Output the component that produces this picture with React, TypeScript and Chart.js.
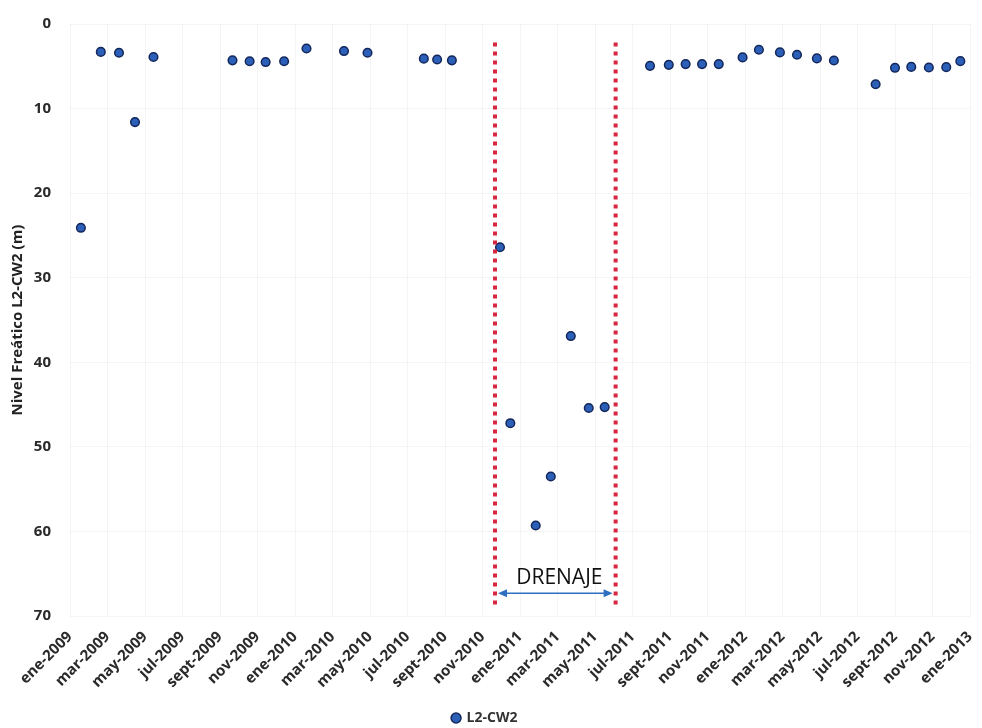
import React, { useEffect, useRef } from "react";
import { Chart, registerables } from "chart.js";

Chart.register(...registerables);

// ---- Data ----
const seriesName = "L2-CW2";
const yAxisTitle = "Nivel Freático L2-CW2 (m)";

const sampleDates = [
  "2009-01-19", "2009-02-19", "2009-03-20", "2009-04-15", "2009-05-15",
  "2009-09-21", "2009-10-19", "2009-11-14", "2009-12-14",
  "2010-01-20", "2010-03-20", "2010-04-27", "2010-07-28", "2010-08-19", "2010-09-12",
  "2010-11-29", "2010-12-16", "2011-01-27", "2011-02-19", "2011-03-23", "2011-04-21", "2011-05-17",
  "2011-07-30", "2011-08-30", "2011-09-26", "2011-10-23", "2011-11-19", "2011-12-28",
  "2012-01-24", "2012-02-26", "2012-03-25", "2012-04-26", "2012-05-24",
  "2012-07-31", "2012-09-01", "2012-09-27", "2012-10-26", "2012-11-23", "2012-12-16",
];

const waterLevels = [
  24.1, 3.3, 3.4, 11.6, 3.9,
  4.3, 4.4, 4.5, 4.4,
  2.9, 3.2, 3.4, 4.1, 4.2, 4.3,
  26.4, 47.2, 59.3, 53.5, 36.9, 45.4, 45.3,
  4.95, 4.83, 4.74, 4.74, 4.74, 3.95,
  3.05, 3.36, 3.64, 4.07, 4.31,
  7.12, 5.18, 5.07, 5.14, 5.1, 4.39,
];

const tickLabels = [
  "ene-2009", "mar-2009", "may-2009", "jul-2009", "sept-2009", "nov-2009",
  "ene-2010", "mar-2010", "may-2010", "jul-2010", "sept-2010", "nov-2010",
  "ene-2011", "mar-2011", "may-2011", "jul-2011", "sept-2011", "nov-2011",
  "ene-2012", "mar-2012", "may-2012", "jul-2012", "sept-2012", "nov-2012",
  "ene-2013",
];

const drainageDates = ["2010-11-21", "2011-06-04"];
const drainageLabel = "DRENAJE";
const drainageLineRange = [2.2, 69.0];
const drainageArrowLevel = 67.3;

// ---- helpers ----
function toMonthIndex(s: string): number {
  const [y, m, d] = s.split("-").map(Number);
  const days = new Date(y, m, 0).getDate();
  return (y - 2009) * 12 + (m - 1) + (d - 1) / days;
}

const FONT = "'Open Sans', 'DejaVu Sans', sans-serif";

function zeroPadding(scale: any) {
  scale.paddingLeft = 0;
  scale.paddingRight = 0;
  scale.paddingTop = 0;
  scale.paddingBottom = 0;
}

const drainagePlugin = {
  id: "drainage",
  afterDatasetsDraw(chart: any) {
    const { ctx, scales } = chart;
    const xs = scales.x;
    const ys = scales.y;
    const xA = xs.getPixelForValue(toMonthIndex(drainageDates[0]));
    const xB = xs.getPixelForValue(toMonthIndex(drainageDates[1]));
    const yTop = ys.getPixelForValue(drainageLineRange[0]);
    const yBot = ys.getPixelForValue(drainageLineRange[1]);
    ctx.save();
    ctx.strokeStyle = "#d7263f";
    ctx.lineWidth = 4;
    ctx.lineCap = "butt";
    ctx.setLineDash([4, 5]);
    [xA, xB].forEach((x) => {
      ctx.beginPath();
      ctx.moveTo(x, yTop);
      ctx.lineTo(x, yBot);
      ctx.stroke();
    });
    ctx.setLineDash([]);
    // arrow
    const ya = ys.getPixelForValue(drainageArrowLevel);
    const l = xA + 3;
    const r = xB - 3;
    ctx.strokeStyle = "#2f6fc0";
    ctx.fillStyle = "#2f6fc0";
    ctx.lineWidth = 1.5;
    ctx.beginPath();
    ctx.moveTo(l + 6, ya);
    ctx.lineTo(r - 6, ya);
    ctx.stroke();
    ctx.beginPath();
    ctx.moveTo(l, ya);
    ctx.lineTo(l + 9, ya - 4);
    ctx.lineTo(l + 9, ya + 4);
    ctx.closePath();
    ctx.fill();
    ctx.beginPath();
    ctx.moveTo(r, ya);
    ctx.lineTo(r - 9, ya - 4);
    ctx.lineTo(r - 9, ya + 4);
    ctx.closePath();
    ctx.fill();
    // label
    ctx.fillStyle = "#111";
    ctx.font = `21px ${FONT}`;
    ctx.textAlign = "center";
    ctx.textBaseline = "alphabetic";
    ctx.fillText(drainageLabel, (xA + xB) / 2 + 4, ya - 9);
    ctx.restore();
  },
};

export default function App() {
  const canvasRef = useRef<HTMLCanvasElement | null>(null);

  useEffect(() => {
    const points = sampleDates.map((d, i) => ({ x: toMonthIndex(d), y: waterLevels[i] }));
    const chart = new Chart(canvasRef.current as HTMLCanvasElement, {
      type: "scatter",
      data: {
        datasets: [
          {
            label: seriesName,
            data: points,
            backgroundColor: "#2c5fb8",
            borderColor: "#13275a",
            borderWidth: 1.5,
            pointRadius: 4.3,
            pointHoverRadius: 4.3,
          },
        ],
      },
      options: {
        animation: false,
        responsive: true,
        maintainAspectRatio: false,
        layout: { padding: { top: 24, right: 12, left: 0, bottom: -7 } },
        plugins: {
          tooltip: { enabled: false },
          legend: {
            position: "bottom",
            labels: {
              usePointStyle: true,
              pointStyle: "circle",
              boxWidth: 7,
              boxHeight: 7,
              padding: 3,
              color: "#333",
              font: { family: FONT, size: 14, weight: "bold" },
            },
          },
        },
        scales: {
          x: {
            type: "linear",
            min: 0,
            max: 48,
            afterFit: (scale: any) => {
              scale.height = 92;
              zeroPadding(scale);
            },
            border: { display: false },
            grid: { color: "rgba(0,0,0,0.04)", drawTicks: false },
            ticks: {
              stepSize: 2,
              autoSkip: false,
              minRotation: 45,
              maxRotation: 45,
              padding: 12,
              color: "#2a2a2a",
              font: { family: FONT, size: 15, weight: "bold" },
              callback: (v: any) => tickLabels[Math.round(Number(v) / 2)] ?? "",
            },
          },
          y: {
            reverse: true,
            min: 0,
            max: 70,
            afterFit: (scale: any) => {
              scale.width = 70;
              zeroPadding(scale);
            },
            border: { display: false },
            grid: { color: "rgba(0,0,0,0.04)", drawTicks: false },
            title: {
              display: true,
              text: yAxisTitle,
              color: "#222",
              font: { family: FONT, size: 15, weight: "bold" },
              padding: { top: 9, bottom: 0 },
            },
            ticks: {
              stepSize: 10,
              padding: 19,
              color: "#2a2a2a",
              font: { family: FONT, size: 15, weight: "bold" },
            },
          },
        },
      },
      plugins: [drainagePlugin],
    });
    return () => chart.destroy();
  }, []);

  return (
    <div style={{ position: "absolute", left: 0, top: 0, width: 982, height: 728 }}>
      <canvas ref={canvasRef} />
    </div>
  );
}
